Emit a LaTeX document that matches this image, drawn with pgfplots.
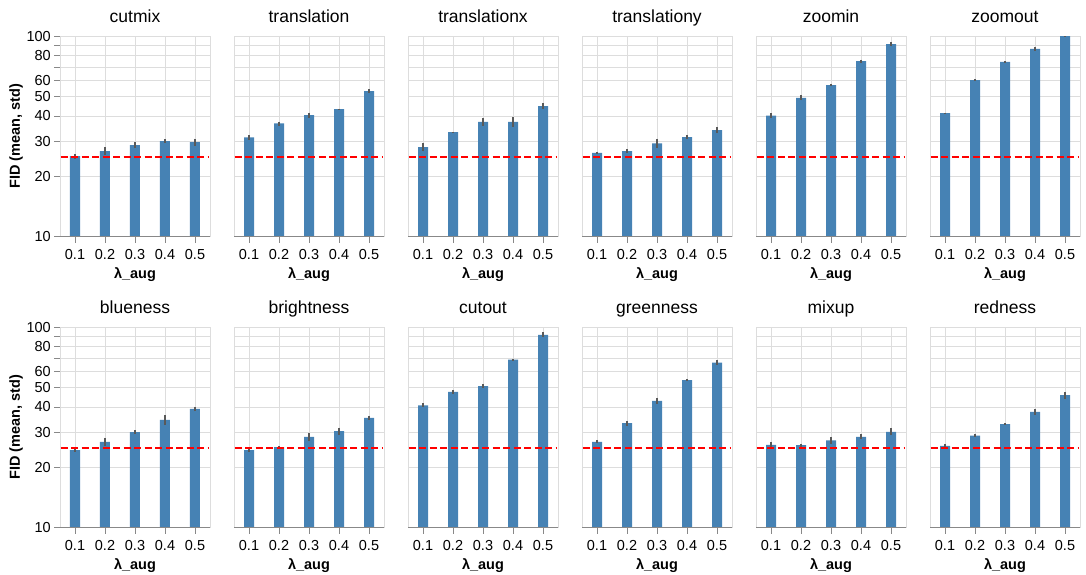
\documentclass[border=0pt]{standalone}
\usepackage{pgfplots}
\pgfplotsset{compat=1.18}
\usepackage{pgfplotstable}
\usepackage{fontspec}
\setmainfont{Liberation Sans}
\definecolor{barblue}{HTML}{4682B4}
\definecolor{gridgray}{HTML}{DDDDDD}
\definecolor{axgray}{HTML}{888888}

% x value err
\pgfplotstableread{
x y e
0.1 25.2 0.72
0.2 26.7 1.27
0.3 28.6 0.98
0.4 30.0 0.63
0.5 29.6 1.24
}\cutmix
\pgfplotstableread{
x y e
0.1 31.3 0.78
0.2 36.7 0.84
0.3 40.4 1.23
0.4 43.3 0.20
0.5 53.2 1.22
}\translation
\pgfplotstableread{
x y e
0.1 28.0 1.34
0.2 33.2 0.15
0.3 37.4 1.71
0.4 37.4 2.14
0.5 44.8 1.54
}\translationx
\pgfplotstableread{
x y e
0.1 26.2 0.40
0.2 26.7 0.61
0.3 29.2 1.62
0.4 31.4 0.78
0.5 34.0 1.10
}\translationy
\pgfplotstableread{
x y e
0.1 40.2 1.07
0.2 49.3 1.51
0.3 57.0 0.76
0.4 75.1 1.43
0.5 91.2 2.26
}\zoomin
\pgfplotstableread{
x y e
0.1 41.3 0.32
0.2 60.4 0.46
0.3 74.5 0.57
0.4 86.5 1.98
0.5 100.4 0.96
}\zoomout
\pgfplotstableread{
x y e
0.1 24.4 0.51
0.2 26.8 1.28
0.3 30.0 0.69
0.4 34.5 1.98
0.5 39.1 0.97
}\blueness
\pgfplotstableread{
x y e
0.1 24.4 0.42
0.2 25.2 0.34
0.3 28.4 1.25
0.4 30.3 1.27
0.5 35.3 0.94
}\brightness
\pgfplotstableread{
x y e
0.1 40.8 0.94
0.2 47.6 1.18
0.3 50.8 1.07
0.4 69.0 0.79
0.5 91.6 2.62
}\cutout
\pgfplotstableread{
x y e
0.1 26.8 0.46
0.2 33.2 0.89
0.3 42.9 1.47
0.4 54.4 0.62
0.5 66.6 1.91
}\greenness
\pgfplotstableread{
x y e
0.1 25.9 0.74
0.2 25.8 0.49
0.3 27.3 1.09
0.4 28.4 0.81
0.5 30.1 1.15
}\mixup
\pgfplotstableread{
x y e
0.1 25.6 0.59
0.2 28.8 0.55
0.3 32.9 0.25
0.4 37.8 1.23
0.5 45.8 1.75
}\redness

\pgfplotsset{
  fidpanel/.style={
    scale only axis, width=150pt, height=200.5pt, anchor=south west,
    xmin=0.05, xmax=0.55,
    xtick={0.1,0.2,0.3,0.4,0.5}, xticklabels={0.1,0.2,0.3,0.4,0.5},
    ytick={10,20,30,40,50,60,70,80,90,100},
    yticklabels={10,20,30,40,50,60,,80,,100},
    minor y tick num=0,
    grid=major,
    major grid style={gridgray, line width=0.8pt},
    axis line style={gridgray, line width=0.8pt},
    tick align=outside, xtick pos=bottom, ytick pos=left,
    major tick length=6pt,
    tick style={axgray, line width=0.8pt},
    ticklabel style={font=\fontsize{14.5}{15}\selectfont},
    xticklabel style={inner sep=0pt, yshift=-6.5pt},
    yticklabel style={inner sep=0pt, xshift=-3pt},
    /pgf/number format/assume math mode=true,
    title style={at={(0.5,1)}, anchor=base, yshift=7.5pt, font=\fontsize{17.5}{18}\selectfont},
    xlabel={\textbf{λ\_aug}},
    xlabel style={at={(axis description cs:0.5,0)}, anchor=base, yshift=-41.5pt, font=\fontsize{14.5}{15}\selectfont},
    ylabel style={at={(axis description cs:0,0.5)}, anchor=base, yshift=40pt, font=\fontsize{14.5}{15}\selectfont},
  },
  innerpanel/.style={yticklabels={}, ytick style={draw=none}},
}

\newcommand{\panel}[5]{%
\begin{axis}[ymode=log, ymin=10, ymax=100, fidpanel, at={(#2pt,#3pt)}, title={#4}, #5]
\addplot[ybar, bar width=10pt, fill=barblue, draw=none,
  error bars/.cd, y dir=both, y explicit, error mark=none,
  error bar style={line width=1.7pt, color=black!65}]
  table[x=x, y=y, y error=e] {#1};
\addplot[red, line width=1.6pt, dash pattern=on 7pt off 3.5pt] coordinates {(0.052,25) (0.548,25)};
\draw[axgray, line width=0.9pt] (rel axis cs:0,0) -- (rel axis cs:1,0);
\end{axis}}

\begin{document}
\begin{tikzpicture}
\path[use as bounding box] (0,0) rectangle (1086pt,574pt);
\panel{\cutmix}{60}{337.3}{cutmix}{ylabel={\textbf{FID (mean, std)}}}
\panel{\translation}{234}{337.3}{translation}{innerpanel}
\panel{\translationx}{408}{337.3}{translationx}{innerpanel}
\panel{\translationy}{582}{337.3}{translationy}{innerpanel}
\panel{\zoomin}{756}{337.3}{zoomin}{innerpanel}
\panel{\zoomout}{930}{337.3}{zoomout}{innerpanel}
\panel{\blueness}{60}{46.3}{blueness}{ylabel={\textbf{FID (mean, std)}}}
\panel{\brightness}{234}{46.3}{brightness}{innerpanel}
\panel{\cutout}{408}{46.3}{cutout}{innerpanel}
\panel{\greenness}{582}{46.3}{greenness}{innerpanel}
\panel{\mixup}{756}{46.3}{mixup}{innerpanel}
\panel{\redness}{930}{46.3}{redness}{innerpanel}
\end{tikzpicture}
\end{document}
